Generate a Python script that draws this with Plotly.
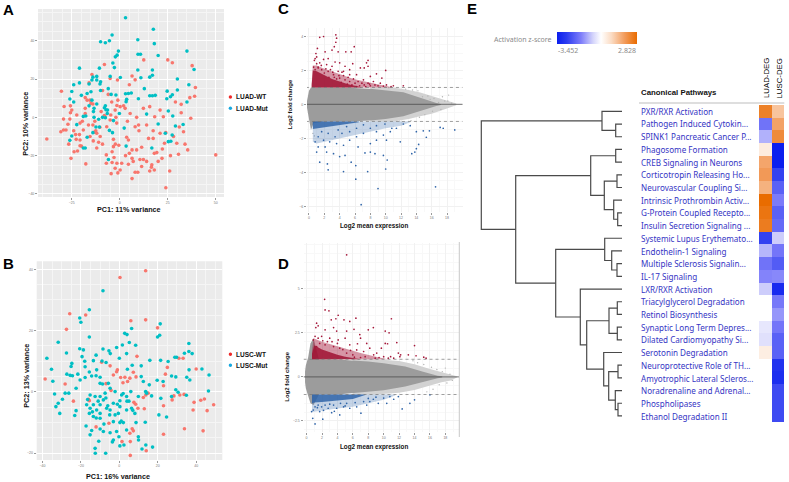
import plotly.graph_objects as go

W, H = 789, 482
RED, TEAL = "#F8766D", "#00BFC4"
DRED, DBLUE = "#a5173a", "#2f64a8"

# ---- Panel A: PCA, LUAD
a_wt_x = [-8,12.5,25,27.4,37.7,6.4,-5,-14.5,-16,-1.2,8,39.4,-30.4,5,39,36.5,32,29,32,37,-29,-25.7,-18,-17,-15.5,-15,-18,-25,-25.7,-29.3,-26,-27,-30.7,-29.3,-28,-38,-26.6,-23.8,-22,-25.4,-17.7,-20.7,-22.7,-20.7,-15.5,-13.4,-12,-10.2,-13.8,-12,-7,-4,-3.3,-2.3,-0.5,-3.3,3.6,4.5,6.4,5,8.8,11.4,18,19.3,22,26.4,30.6,35.4,34,29.7,33.2,23.3,22.2,50,24,6.4,-4.5,-1,0.2,-2.4,-4,-1.5,-7,4.5,8,9.4,15.6,18,16.7,12.3,14,11.4,6.4,-10.4,-6.8,-7.6,-4.7,-2.4,0.2,2.8,5.4,8.8,12.3,15.6,18.2,21,22.7,14,8,9.8,17.4,21,17.4,-1.6,-5,-16.3,-19,-20.7,-22.4,-9.7,-4.2,-1.5,-12.5,-14,-19.5,-21,-11,-9,-3,1,3,7,10.5,16.5,20,26,2,-1,-6,-9,-14,-18,-23,-24,-20,-13,-8,-2,4,10,15,24,28,31]
a_wt_y = [27.6,30,30,28.5,27,21.6,20.3,22.4,18,19.5,19.6,15.6,13.6,17,11,10.3,6.8,8,2.4,-0.5,5.7,6,10.3,9,9,7.3,4.7,3.8,2.4,-0.9,-0.9,-3.6,-7.5,-6.6,-6.6,-11.3,-14,-18,-17.6,-21.4,-24.3,-14.8,-11.5,-11.8,-10,-7.8,-8.3,-10,-12.3,-16,-19.6,-18,-15.3,-14,-14.6,-11.5,-10.4,-11.8,-17,-18.8,-17,-15.6,-18.8,-18.4,-21.4,-20,-19.3,-17,-14,-13.5,-7.5,-13.5,-16.5,-19.6,-36.8,-32,-29.4,-29,-27.5,-26.6,-23.6,-24,-24,-24.5,-28.7,-28.7,-28,-27.5,-24.8,-22,-23,-25.7,-21.4,-5.2,-4.9,0.3,1.2,3.8,5.6,4.7,2,0,4.7,5.6,0.3,3.8,0.3,-4,-4.9,-4,-7,-8.3,-11,-3,-1.4,-4,-6.6,-3,1.2,3,8,6.2,-7,-4,-2,-9,-13,-14,-21,-24,-20,-23,-22,-26,-23,-28,6,9,12,14,7,2,-9,-7,-15,-2,1,0,-2,-7,-11,-8,-10,-5]
a_mut_x = [3,17.5,-4,-5.4,-7.5,-10,9.4,18,-0.7,-1.4,-2.3,9.5,10.8,20,35,-21,-10.6,-3.6,-2.8,9.4,17,38.7,-14,-12,-5,0.3,11,15.6,17,30,-24,-21,-14.5,-12,-10,-16,-10.3,36,-25,-20,-17,-15,-10,-6,-4.5,-2,3,4.5,6,9.7,12.8,15.6,17,18.5,24.7,30,27.4,26.4,24.5,3.6,3.3,-26,-24,35,-13.4,-13.7,-7.5,-6.4,14,25.3,27.6,-19,-17.7,-13.4,-9,-7.5,-0.2,-22.4,-12.4,-10.6,2.3,-3.3,20,29,33,23.7,27.3,-26,-25,-17,-14,-5.4,-3.8,25.3,26.6,3.3,-19,-18,16.7,-5.9,-8,-12,-16,-7.2,-6.5,-11,-14.5]
a_mut_y = [52,46,43,40,39,39.5,40.5,38.5,34.6,32.5,31.6,33,33,32.3,34.6,25.7,25.7,28.4,26,24.7,24.7,25,21,21.4,21.4,20.8,20.7,21,22,20,17,18,19.5,19.5,18.6,17.4,17.4,17,13.5,11.5,12.5,13.4,14,15,12,11.7,12.3,12.5,12.7,9.7,15,11.3,11.3,11.5,13.7,14.3,11.8,10.8,9.7,9.4,8.2,9.6,8,8,4.7,3,6,3.8,1.7,3.3,0.7,0.5,0.7,0,0,-0.2,2,-3.8,-5,-5,-5.6,-1.7,-3.5,-4.5,-3.7,-8.3,-9.2,-12,-9.7,-10.4,-8,-6.8,-8,-12.7,-12.5,-15,-16,-16,-16,-22,5,7,6,4,2,-1,9]

# ---- Panel B: PCA, LUSC
b_wt_x = [0.35,13.7,-25.8,-17.5,-27.5,6,13.7,19.9,9.2,31,25,33.2,-9.2,-4.8,-1,-1.4,-3.1,0.7,2.9,7.3,8.7,5.5,4.3,1.9,24,23,15,13.8,12.5,40,-38.6,-28.2,-23.9,-16,-15.6,-4.3,-6.9,31.5,28.4,27.5,33.7,38.9,42.4,44.3,49.1,38.4,45.7,23,33.9,43.6,23,13,7.6,8.5,9.7,-5.4,-12.1,6.7,7.3,5.5,5.7,1.4,14,5.7]
b_wt_y = [37.3,39.5,25.5,25.1,20.4,23.2,23.5,20.9,11.6,11,8,11,9.7,8.5,7.2,6.6,5.5,4.7,4.8,6.4,4.9,4.5,3.4,3,5.8,2,-0.4,-1,-1.8,7.5,4.2,2.6,-3,-2.4,-2.9,0.5,2.7,-1,-1.3,-2.6,-0.8,-3.4,-2.7,-2.3,-4.2,-5.9,-6.1,-4.5,-12,-12.7,-13.8,-5.5,-3.4,-4,-5.3,-10.2,-11.4,-12,-12.7,-13.5,-16.2,-16.2,-19.2,-20.7]
b_mut_x = [-8.5,-15.6,-20.6,-20,21.3,19.9,21,6.4,2.8,4,-15.6,-31.8,5.2,1.6,-1.4,8.5,-20.6,-18.7,-8.5,-5.4,-4.7,-27.5,-12.1,-19.4,0,3.8,-37.7,36.2,33.9,36.2,37.9,28.9,29.8,15.9,21.5,-24.7,-25.1,-35.3,-18,-13.5,-9,-6.9,-17.8,-15.6,-11.8,-27.3,-25.6,-24.4,-21.6,-17.8,-14.4,-12.1,-10,-34.6,-20.4,-22.5,-10,-8.7,-5.7,4.2,6.7,11.4,19.7,11.4,12.5,15.6,22.8,25.4,27.2,29.4,36.3,43,46.7,35.1,36.7,46.4,30.6,27.2,34.9,29.4,-33.7,-28.2,-26.3,-29.6,-31.8,-33,-31,-22.5,-23.2,-17.3,-15.2,-14.4,-10.7,-12.6,-12.5,-7.1,-3.6,-3.1,-0.2,2.4,0.3,10,11.8,13.8,17.3,3.8,9.9,8.7,13.5,2.1,0.3,-3.1,-1.4,-4.8,-8.3,-10,-17,-15.6,-15.2,-13.5,-11.8,-10,-8.3,-6.6,-4.8,-2.2,-0.5,0.3,3.8,6.4,-15.2,-12.6,-10,-7.4,-4.8,-2.2,1.2,3.8,6,9.9,14.2,16.8,13.7,21.6,20.6,24.6,-3.1,0.3,8.1,-10,-13.5,-10,-16.5,-14,-11,-7,-5,-1,1,4,7,-6,-8,-12,2,5]
b_mut_y = [33,26.8,24.1,22.7,22.2,17.9,18.5,20.7,19.1,18.7,17.9,16.2,16.1,15.3,14.5,15.2,14.1,13.7,14,13.4,12.5,12.7,12,11.5,11,12.5,11,15.8,12.6,13.2,12.5,11.3,11.3,10.3,10.3,9.3,8.3,7.4,10,10.2,10.1,9.6,8.2,6.5,7.2,5.8,5.4,5.3,5.8,4.7,5.2,5.3,4.8,3.5,3.9,1.2,2.8,2.6,2.8,7.4,8.7,8.5,3.8,5,3.4,2.3,3.4,9.9,5.2,4.9,7.2,7.5,5.5,4.8,3.9,0.3,-0.1,-1.5,-1.1,0.7,-0.7,-0.4,-0.4,-2.4,-3.7,-4.8,-7,-6.1,-7.7,-11.1,-14,-12.6,-16.1,-18.4,-20,-20,-16.3,-15.7,-14.6,-17.3,-17.6,-15.7,-18.6,-17.3,-18,-12.4,-14.6,-10,-9.9,-10,-10,-9.7,-12.9,-13.3,-12.9,-12.1,-4.2,-7,-5.3,-4.2,-5.9,-4.2,-2.6,-5.3,-5.9,-7.5,-7,-4.8,-5.9,-5.3,-1,-1.5,-1.5,-0.4,1.2,0.1,-1,-1.5,0.1,-1.5,-0.4,-1.3,0.1,-2.1,-7.5,-8.2,-3.7,-2.9,-7,-7,-8,-8.6,-2.5,-6.5,-3,-2,-7.5,-4,-9.5,-3,-6,-4.5,-10.5,-8.5,-0.5,-3,-8.5,-5]

# ---- Panel C: MA plot, LUAD (envelopes of the dense cloud + readable points)
c_mass_x = [-0.26,-0.17,0,0.26,0.6,2,5,8,10,12.3,14,15,16,16.6,17.2]
c_mass_up = [0.2,0.5,0.8,1.0,1.0,1.0,0.98,0.92,0.82,0.72,0.47,0.32,0.16,0.08,0.03]
c_mass_lo = [-0.2,-0.5,-0.85,-1.5,-1.1,-1.0,-1.0,-0.95,-0.85,-0.7,-0.47,-0.34,-0.18,-0.09,-0.03]
c_fringe_x = [8,11,13,14.5,16,17.5,18.5,19.2]
c_fringe_up = [1,1,0.85,0.7,0.5,0.3,0.15,0.05]
c_fringe_lo = [-1,-1,-0.85,-0.7,-0.55,-0.3,-0.15,-0.05]
c_gray_x = [0.5,0.7,12.6,13.5,14.2,14.8,15.5,15.8,16.3,16.9,17.4,17.7,18.1,18.2,18.6,17.2,16.1,15.1,14.4,13.3,11.8,10.4]
c_gray_y = [-1.7,-1.85,0.9,0.85,0.8,0.45,0.5,0.3,0.35,0.12,0.45,0.2,0.2,0.55,0.08,-0.3,-0.4,-0.6,-0.75,-0.95,-0.98,0.98]
c_red_outer_x = [0.35,0.5,1,2,3.6,5.8,8.8,10.2,11]
c_red_outer_top = [1.2,2.3,2.3,2.1,1.85,1.5,1.2,1.05,1.0]
c_red_inner_x = [0.35,0.5,1,2,3,4,5,6,7]
c_red_inner_top = [1.15,2.0,1.95,1.7,1.5,1.35,1.2,1.1,1.0]
c_red_x = [3.5,1.9,1.4,3.6,3.5,3.3,1.1,5.9,4.8,5.5,2.1,3,3.8,0.9,1,0.8,7.7,7.5,5.7,6.7,7.2,7.7,10,8.8,9.5,8,12.3,6.2,5.3,4.7,4,3.4,2.5,1.9,1.4,2.3,3,4.5,3.8,5.3,7.1,8.4,9.3,10.1,11,8.6,7.7,6.4,6,5.3,4.7,4,3.2,2.5,1.65,1.2,4.2,3.6,5,5.6,6.6,7.2,8,9,10.7,4.5,6.9,7.4,7.9,9.7,6.2,5.8,5.1,4.3,3.9,3.1,2.8,2.2,1.6,1,0.7,0.6,0.8,2,1.2,2.6,3.3]
c_red_y = [4.1,4,3.95,3.9,3.66,3.4,3.3,3.4,3.1,3.1,3.1,3.2,3.1,3,2.8,2.7,2.6,2.45,2.4,2.15,2.15,2.25,2,1.8,1.55,1.65,1.1,1.75,2.05,2.25,2.45,2.5,2.7,2.65,2.45,2.35,2.25,1.95,1.95,1.75,1.45,1.35,1.25,1.15,1.1,1.15,1.25,1.35,1.25,1.35,1.45,1.55,1.75,1.95,2.05,2.15,1.3,1.5,1.2,1.15,1.1,1.15,1.1,1.1,1.05,1.7,1.25,1.05,1.2,1.08,1.05,1.5,1.6,1.9,1.7,1.9,2.05,2.1,2.3,2.4,2.6,2.2,2.05,1.85,2.2,1.6,1.6]
c_blue_outer_x = [0.5,1,2,4,6,8,10,12,13.2]
c_blue_outer_lo = [-2.2,-2.3,-2.2,-2.0,-1.8,-1.6,-1.4,-1.25,-1.05]
c_blue_inner_x = [0.5,1,2,3,4,5,6.5]
c_blue_inner_lo = [-1.45,-1.42,-1.38,-1.32,-1.25,-1.15,-1.05]
c_blue_x = [1.4,2.4,2.5,4.5,6.1,5.5,6.1,7.65,9,6.8,16.5,10,10.2,9.7,4,3.2,1,2.3,4.7,7.3,8,8.6,13.4,13.8,14.3,14,11.9,15.3,17.1,17.5,19,15.7,14.9,14,13.2,12.3,11.4,10.6,9.7,8.8,8,7.1,6.2,5.3,4.5,3.6,2.7,1.9,1.2,0.8,1.2,2.1,3.4,4.3,5.3,6.2,7.1,4.9,3.8,2.5,1.65,6.4,8,8.8,10.1,10.8,8.8,9.9]
c_blue_y = [-3.4,-3.5,-3.85,-3.95,-3.6,-3.4,-4.4,-3.95,-4.95,-5.9,-4.85,-3.8,-3.27,-3,-3.07,-2.9,-2.8,-2.8,-3,-2.85,-2.8,-2.9,-2.9,-2.8,-2.35,-2.6,-2.2,-1.93,-1.35,-1.4,-1.5,-1.55,-1.55,-1.6,-1.25,-1.15,-1.4,-1.6,-1.8,-1.6,-1.4,-1.7,-1.9,-2.1,-2.4,-2.3,-2.2,-2.1,-1.9,-2.2,-2.5,-2.5,-1.9,-1.7,-1.6,-1.4,-1.2,-1.3,-1.5,-1.7,-1.6,-2.5,-2.3,-2.1,-2.1,-1.4,-1.25,-1.15]

# ---- Panel D: MA plot, LUSC
d_mass_x = [-0.2,-0.1,0.2,0.5,0.9,1.6,4,8,10,12.8,15,16.2,17,17.6]
d_mass_up = [0.3,0.65,1.1,1.9,2.2,1.0,0.98,0.88,0.78,0.59,0.3,0.15,0.07,0.03]
d_mass_lo = [-0.3,-0.65,-1.1,-1.5,-1.6,-1.0,-1.0,-0.85,-0.76,-0.55,-0.27,-0.17,-0.08,-0.03]
d_fringe_x = [6,9,12,14,16,17.5,18.7,19.5]
d_fringe_up = [1,1,0.9,0.72,0.45,0.28,0.15,0.03]
d_fringe_lo = [-1,-1,-0.9,-0.75,-0.5,-0.3,-0.2,-0.03]
d_gray_x = [15.2,16.2,16.9,17.6,18,18.6,18.2,17.2,16.4,15.6,18.9,13.8,14.4]
d_gray_y = [0.7,0.55,0.42,0.3,0.5,0.15,-0.35,-0.45,-0.7,-0.85,-0.2,0.92,0.8]
d_red_outer_x = [0.7,0.9,2,3.5,5,7,9,10.5]
d_red_outer_top = [1.5,2.2,2.0,1.8,1.6,1.35,1.15,1.0]
d_red_inner_x = [0.7,1,2,3,4,5,6.5,7]
d_red_inner_top = [1.3,1.8,1.55,1.4,1.25,1.15,1.05,1.0]
d_red_x = [5.2,2.34,2.4,2.9,4.1,3.8,4.85,5.6,6.4,11,3.2,1.3,1.5,1.2,2.4,3.5,3.9,5.2,6.15,8,8.66,10.2,10.7,6.9,7,5,4.1,3,1.95,1.1,0.87,10.2,10.5,11.7,14,7.8,6.6,5.6,8.2,9.7,9.1,11.9,12.2,10.9,13.2,14.2,15.2,15.5,12.1,10,8.7,7.4,6.5,5.2,4.3,3.5,2.4,1.7,1.3,1.1,6,7.6,10.6,8.9,7,6.2,5.7,4.7,4,3.3,2.7,2.1,1.5,9.4,11.3]
d_red_y = [6.93,4.4,3.8,3.75,3.5,3.3,3.24,3.15,3.33,3.3,3.24,3.05,2.9,2.8,2.67,2.8,2.6,2.6,2.7,2.67,2.8,2.6,2.5,2.4,2.2,2.2,2.1,2.2,2.3,2.3,2.1,1.9,1.88,1.95,1.78,1.9,1.88,1.82,1.63,1.63,1.35,1.35,1.25,1.15,1.25,1.2,1.12,1.06,1.15,1.15,1.25,1.44,1.53,1.35,1.63,1.72,1.82,1.9,1.72,1.44,1.25,1.15,1.06,1.06,1.1,1.12,1.5,1.55,1.9,2,2,2.05,2.2,1.1,1.06]
d_blue_outer_x = [0.7,2,4,6,8,10,11.5]
d_blue_outer_lo = [-2.0,-1.9,-1.8,-1.7,-1.5,-1.3,-1.05]
d_blue_inner_x = [0.7,1,2,3,4,5,6,7,7.6]
d_blue_inner_lo = [-1.5,-1.45,-1.42,-1.38,-1.35,-1.3,-1.25,-1.12,-1.03]
d_blue_x = [0.8,1.1,2.1,0.65,1.7,3.25,4.3,7.05,12.4,13.4,14,16,11.9,11.3,10.4,9.3,8.2,7.8,6.5,5.6,4.8,3.9,2.8,1.95,1.1,0.87,1.5,2.4,3.5,5.2,6.3,7.4,8.66,10,10.8,9,8,1.4,2.2,3,3.6,4.4,5]
d_blue_y = [-2.35,-2.67,-2.4,-1.97,-1.97,-2.03,-2.16,-2.06,-1.82,-1.5,-1.3,-1.02,-1.12,-1.27,-1.5,-1.5,-1.4,-1.6,-1.7,-1.78,-1.7,-1.78,-1.78,-1.7,-1.7,-1.88,-1.6,-1.6,-1.6,-1.5,-1.46,-1.4,-1.27,-1.2,-1.12,-1.15,-1.22,-1.75,-1.9,-1.55,-1.95,-1.5,-1.65]

# ---- Panel E
pathways = ["PXR/RXR Activation","Pathogen Induced Cytokin...","SPINK1 Pancreatic Cancer P...","Phagosome Formation","CREB Signaling in Neurons","Corticotropin Releasing Ho...","Neurovascular Coupling Si...","Intrinsic Prothrombin Activ...","G-Protein Coupled Recepto...","Insulin Secretion Signaling ...","Systemic Lupus Erythemato...","Endothelin-1 Signaling","Multiple Sclerosis Signalin...","IL-17 Signaling","LXR/RXR Activation","Triacylglycerol Degradation","Retinol Biosynthesis","Synaptic Long Term Depres...","Dilated Cardiomyopathy Si...","Serotonin Degradation","Neuroprotective Role of TH...","Amyotrophic Lateral Scleros...","Noradrenaline and Adrenal...","Phospholipases","Ethanol Degradation II"]
luad_deg = [2.4,-1.75,-1.0,0.45,1.7,1.9,1.5,2.83,2.65,2.5,-2.6,-0.95,-1.75,-1.5,-0.7,None,None,-0.35,-0.45,0.4,None,None,None,None,None]
lusc_deg = [1.2,1.75,2.2,-3.45,-3.45,-2.6,-2.05,-1.6,-2.05,-1.9,-0.7,-1.7,-2.15,-1.45,-3.15,-1.65,-1.3,-1.7,-2.05,-2.05,-2.95,-3.05,-2.45,-2.45,-2.45]
columns = ["LUAD-DEG", "LUSC-DEG"]
z_min, z_max = -3.452, 2.828

# dendrogram: (height, child, child); integers are leaf rows
tree = (140.7,
        (20, 0, (6.3, 1, 2)),
        (106.3,
         (31.3, (6.3, 3, 4), (17.7, (5, 5, 6), (8.3, 7, (4.3, 8, 9)))),
         (66.3,
          (17.3, 10, (10.3, 11, (5, 12, 13))),
          (41.7, 14,
           (35.3,
            (13, (4.7, 15, 16), (4.7, 17, 18)),
            (18.3, 19, (13.3, (4, 20, 21), (6.7, 22, (4, 23, 24)))))))))


def px_x(p):
    return p / W


def px_y(p):
    return 1 - p / H


fig = go.Figure()


def add_axes(n, x0, x1, y0, y1, xr, yr, xt, yt, bg, grid, minor):
    s = "" if n == 1 else str(n)
    common = dict(anchor=None, showline=False, zeroline=False, ticks="outside", ticklen=2, tickwidth=0.5,
                  tickcolor="#9a9a9a", tickfont=dict(size=3.5, color="#777", family="Liberation Sans"),
                  showgrid=True, gridcolor=grid, gridwidth=0.7,
                  minor=dict(showgrid=True, gridcolor=minor, gridwidth=0.4))
    fig.layout["xaxis" + s] = dict(common, domain=[px_x(x0), px_x(x1)], range=xr, tickvals=xt, anchor="y" + s)
    fig.layout["yaxis" + s] = dict(common, domain=[px_y(y1), px_y(y0)], range=yr, tickvals=yt, anchor="x" + s)
    fig.add_shape(type="rect", xref="paper", yref="paper", x0=px_x(x0), x1=px_x(x1), y0=px_y(y1), y1=px_y(y0),
                  fillcolor=bg, line_width=0, layer="below")


def pts(n, x, y, color, size, opacity=1.0):
    s = "" if n == 1 else str(n)
    fig.add_trace(go.Scatter(x=x, y=y, xaxis="x" + s, yaxis="y" + s, mode="markers", showlegend=False,
                             marker=dict(color=color, size=size, opacity=opacity, line_width=0)))


def band(n, x, up, lo, color):
    s = "" if n == 1 else str(n)
    fig.add_trace(go.Scatter(x=list(x) + list(x)[::-1], y=list(up) + list(lo)[::-1], xaxis="x" + s, yaxis="y" + s,
                             mode="lines", fill="toself", fillcolor=color, line_width=0, showlegend=False,
                             hoverinfo="skip"))


add_axes(1, 38, 224, 9, 197, [-42.6, 54.3], [-41.6, 56.6], [-25, 0, 25, 50], [-40, -20, 0, 20, 40], "#ebebeb", "#ffffff", "#f5f5f5")
add_axes(2, 36.7, 222.3, 261.3, 460, [-43, 53.6], [-22.2, 42.6], [-40, -20, 0, 20, 40], [-20, 0, 20, 40], "#ebebeb", "#ffffff", "#f5f5f5")
add_axes(3, 307, 462.7, 28, 212, [-0.26, 20.04], [-6.33, 4.5], list(range(0, 20, 2)), [-6, -4, -2, 0, 2, 4], "#ffffff", "#f1f1f1", "#f8f8f8")
add_axes(4, 303.5, 459, 243, 431.5, [-0.4, 19.77], [-3.1, 7.6], list(range(0, 20, 2)), [-2.5, 0, 2.5, 5], "#ffffff", "#f1f1f1", "#f8f8f8")

pts(1, a_wt_x, a_wt_y, RED, 3.6)
pts(1, a_mut_x, a_mut_y, TEAL, 3.6)
pts(2, b_wt_x, b_wt_y, RED, 3.6)
pts(2, b_mut_x, b_mut_y, TEAL, 3.6)

GRAY, LIGHT = "#9c9c9c", "#d2d2d2"
RED_OUT, RED_IN = "rgba(165,23,58,0.45)", "rgba(160,18,50,0.85)"
BLUE_OUT, BLUE_IN = "rgba(47,100,168,0.28)", "rgba(47,100,168,0.85)"

band(3, c_fringe_x, c_fringe_up, c_fringe_lo, LIGHT)
band(3, c_mass_x, c_mass_up, c_mass_lo, GRAY)
pts(3, c_gray_x, c_gray_y, "#b5b5b5", 1.4)
band(3, c_red_outer_x, c_red_outer_top, [1.0] * len(c_red_outer_x), RED_OUT)
band(3, c_red_inner_x, c_red_inner_top, [1.0] * len(c_red_inner_x), RED_IN)
pts(3, c_red_x, c_red_y, DRED, 1.7)
band(3, c_blue_outer_x, [-1.0] * len(c_blue_outer_x), c_blue_outer_lo, BLUE_OUT)
band(3, c_blue_inner_x, [-1.0] * len(c_blue_inner_x), c_blue_inner_lo, BLUE_IN)
pts(3, c_blue_x, c_blue_y, DBLUE, 1.7)

band(4, d_fringe_x, d_fringe_up, d_fringe_lo, LIGHT)
band(4, d_mass_x, d_mass_up, d_mass_lo, GRAY)
pts(4, d_gray_x, d_gray_y, "#b5b5b5", 1.4)
band(4, d_red_outer_x, d_red_outer_top, [1.0] * len(d_red_outer_x), RED_OUT)
band(4, d_red_inner_x, d_red_inner_top, [1.0] * len(d_red_inner_x), RED_IN)
pts(4, d_red_x, d_red_y, DRED, 1.7)
band(4, d_blue_outer_x, [-1.0] * len(d_blue_outer_x), d_blue_outer_lo, BLUE_OUT)
band(4, d_blue_inner_x, [-1.0] * len(d_blue_inner_x), d_blue_inner_lo, BLUE_IN)
pts(4, d_blue_x, d_blue_y, DBLUE, 1.7)

for s, xmax in (("3", 20.04), ("4", 19.77)):
    fig.add_shape(type="line", xref="x" + s, yref="y" + s, x0=-0.4, x1=xmax, y0=0, y1=0, line=dict(color="rgba(70,70,70,0.6)", width=1.3))
    for v in (1, -1):
        fig.add_shape(type="line", xref="x" + s, yref="y" + s, x0=-0.4, x1=xmax, y0=v, y1=v, line=dict(color="#777", width=0.7, dash="dot"))
fig.add_shape(type="line", xref="paper", yref="paper", x0=px_x(459.3), x1=px_x(459.3), y0=px_y(437), y1=px_y(242), line=dict(color="#c9c9c9", width=1))

# Heatmap (axes 5)
fig.layout.xaxis5 = dict(domain=[px_x(759), px_x(784.3)], anchor="y5", visible=False)
fig.layout.yaxis5 = dict(domain=[px_y(422.3), px_y(105)], anchor="x5", visible=False, autorange="reversed")
fig.add_trace(go.Heatmap(
    z=[list(r) for r in zip(luad_deg, lusc_deg)], x=columns, y=pathways, xaxis="x5", yaxis="y5",
    zmin=z_min, zmax=z_max, xgap=0, ygap=0, hoverongaps=False,
    colorscale=[[0, "#0a1eee"], [0.12, "#2c3cf0"], [0.3, "#7d7dfa"], [0.45, "#d4d4fb"], [0.55, "#ffffff"], [0.68, "#fbdcc4"], [0.85, "#f29a58"], [1, "#e96c00"]],
    colorbar=dict(orientation="h", x=px_x(557), xanchor="left", y=px_y(32), yanchor="top", lenmode="pixels", len=80,
                  thicknessmode="pixels", thickness=12, outlinewidth=0, xpad=0, ypad=0, ticks="", showticklabels=False)))

# Dendrogram (axes 6): x is merge height, y is row
fig.layout.xaxis6 = dict(domain=[px_x(470), px_x(622)], anchor="y6", visible=False, range=[152, 0])
fig.layout.yaxis6 = dict(domain=[px_y(422.3), px_y(105)], anchor="x6", visible=False, range=[24.5, -0.5])
dx, dy = [], []


def walk(node):
    if isinstance(node, int):
        return 0, node
    h, a, b = node
    ha, ya = walk(a)
    hb, yb = walk(b)
    dx.extend([ha, h, h, hb, None])
    dy.extend([ya, ya, yb, yb, None])
    return h, (ya + yb) / 2


walk(tree)
fig.add_trace(go.Scatter(x=dx, y=dy, xaxis="x6", yaxis="y6", mode="lines", showlegend=False, hoverinfo="skip",
                         line=dict(color="#4a4a4a", width=1.2)))


def note(x, y, text, size, color="#111", bold=False, xanchor="center", angle=0, family="Liberation Sans"):
    fig.add_annotation(xref="paper", yref="paper", x=px_x(x), y=px_y(y), text=f"<b>{text}</b>" if bold else text,
                       showarrow=False, xanchor=xanchor, yanchor="middle", textangle=angle, borderpad=0,
                       font=dict(size=size, color=color, family=family))


for letter, x, y in (("A", 2, 9), ("B", 2, 263), ("C", 277, 8), ("D", 277, 263), ("E", 466, 8)):
    note(x, y, letter, 15, "#000", True, "left")

note(129, 209, "PC1: 11% variance", 7.2, bold=True)
note(25.7, 124, "PC2: 10% variance", 7.2, bold=True, angle=-90)
note(118, 476, "PC1: 16% variance", 7.2, bold=True)
note(25.7, 376, "PC2: 13% variance", 7.2, bold=True, angle=-90)
note(374, 225.7, "Log2 mean expression", 6.3, bold=True)
note(289.7, 104.7, "Log2 fold change", 6, bold=True, angle=-90)
note(374, 447, "Log2 mean expression", 6.3, bold=True)
note(287, 376.7, "Log2 fold change", 6, bold=True, angle=-90)

legend_rows = ((97, "LUAD-WT", "#ee2a2a"), (108.3, "LUAD-Mut", "#18a8e0"), (354.3, "LUSC-WT", "#ee2a2a"), (365.3, "LUSC-Mut", "#18a8e0"))
for y, label, c in legend_rows:
    fig.add_shape(type="circle", xref="paper", yref="paper", x0=px_x(228.7), x1=px_x(232.1), y0=px_y(y + 1.7), y1=px_y(y - 1.7), fillcolor=c, line_width=0)
    note(235, y, label, 6.5, bold=True, xanchor="left")

note(553, 39.3, "Activation z-score", 7, "#8a8a8a", xanchor="right", family="Noto Sans")
note(557, 51, "-3.452", 7, "#8a8a8a", xanchor="left", family="Noto Sans")
note(636.5, 51, "2.828", 7, "#8a8a8a", xanchor="right", family="Noto Sans")
note(639.5, 93, "Canonical Pathways", 7.8, "#111", True, "left")
note(766.5, 78.5, "LUAD-DEG", 7.8, "#000", angle=-90)
note(779, 78.5, "LUSC-DEG", 7.8, "#000", angle=-90)
fig.add_shape(type="line", xref="paper", yref="paper", x0=px_x(639), x1=px_x(784.3), y0=px_y(103), y1=px_y(103), line=dict(color="#bdbdbd", width=1))
for i, name in enumerate(pathways):
    note(639.5, 111.3 + 12.7 * i, name, 8.1, "#3535c4", xanchor="left", family="Noto Sans")

fig.update_layout(width=W, height=H, margin=dict(l=0, r=0, t=0, b=0, pad=0), paper_bgcolor="#ffffff", plot_bgcolor="rgba(0,0,0,0)",
                  showlegend=False, font=dict(family="Liberation Sans"))
fig.write_html("out.html", config=dict(displayModeBar=False), post_script="document.body.style.margin='0';document.body.style.overflow='hidden';")
